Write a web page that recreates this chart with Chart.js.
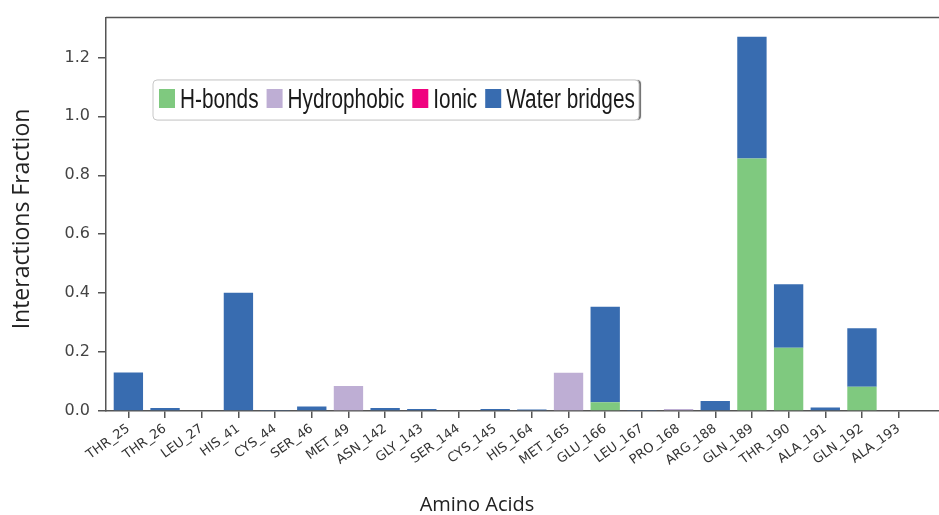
<!DOCTYPE html>
<html>
<head>
<meta charset="utf-8">
<script src="https://cdn.jsdelivr.net/npm/chart.js@4.4.1/dist/chart.umd.min.js"></script>
<style>
  html, body { margin: 0; padding: 0; background: #fff; }
  #wrap { width: 939px; height: 515px; }
</style>
</head>
<body>
<div id="wrap"><canvas id="myChart" width="939" height="515"></canvas></div>
<script>
// residues on the x axis
var aminoAcids = ["THR_25", "THR_26", "LEU_27", "HIS_41", "CYS_44", "SER_46", "MET_49",
  "ASN_142", "GLY_143", "SER_144", "CYS_145", "HIS_164", "MET_165", "GLU_166",
  "LEU_167", "PRO_168", "ARG_188", "GLN_189", "THR_190", "ALA_191", "GLN_192", "ALA_193"];

// interaction fractions
var hBonds      = [0, 0, 0, 0, 0, 0, 0, 0, 0, 0, 0, 0, 0, 0.03, 0, 0, 0, 0.857, 0.215, 0, 0.082, 0];
var hydrophobic = [0, 0, 0, 0, 0, 0, 0.085, 0, 0, 0, 0, 0, 0.13, 0, 0, 0.007, 0, 0, 0, 0, 0, 0];
var ionic       = [0, 0, 0, 0, 0, 0, 0, 0, 0, 0, 0, 0, 0, 0, 0, 0, 0, 0, 0, 0, 0, 0];
var waterBridges = [0.131, 0.01, 0, 0.401, 0.003, 0.015, 0, 0.01, 0.007, 0, 0.007, 0.005, 0,
  0.324, 0.002, 0, 0.034, 0.413, 0.215, 0.012, 0.199, 0];

var yTicks = [0, 0.2, 0.4, 0.6, 0.8, 1.0, 1.2];

var xTitle = "Amino Acids";
var yTitle = "Interactions Fraction";

function toPoints(arr) {
  return arr.map(function (v, i) { return { x: i, y: v }; });
}

var axisColor = "#555";
var textColor = "#333";

// top spine + axis titles (titles sit off-centre in the original)
var frameAndTitles = {
  id: "frameAndTitles",
  afterDraw: function (chart) {
    var ctx = chart.ctx, a = chart.chartArea;
    ctx.save();
    ctx.strokeStyle = axisColor;
    ctx.lineWidth = 1.5;
    ctx.beginPath();
    ctx.moveTo(a.left, a.top);
    ctx.lineTo(a.right, a.top);
    ctx.stroke();

    ctx.fillStyle = "#222";
    ctx.textAlign = "center";
    ctx.textBaseline = "middle";
    ctx.font = "20px 'Open Sans', sans-serif";
    ctx.fillText(xTitle, 477, 505);

    ctx.translate(22, 219);
    ctx.rotate(-Math.PI / 2);
    ctx.font = "23px 'Open Sans', sans-serif";
    ctx.fillText(yTitle, 0, 0);
    ctx.restore();
  }
};

// legend box sitting inside the plot
var boxLegend = {
  id: "boxLegend",
  afterDraw: function (chart) {
    var ctx = chart.ctx;
    var x0 = 153, y0 = 80, w = 486, h = 40;
    ctx.save();
    ctx.shadowColor = "rgba(0,0,0,0.6)";
    ctx.shadowOffsetX = 2;
    ctx.shadowOffsetY = 0;
    ctx.shadowBlur = 1;
    ctx.fillStyle = "#fff";
    ctx.beginPath();
    ctx.roundRect(x0, y0, w, h, 4);
    ctx.fill();
    ctx.shadowColor = "transparent";
    ctx.strokeStyle = "#c8c8c8";
    ctx.lineWidth = 1;
    ctx.stroke();

    var sx = 0.77;
    ctx.font = "27px 'Liberation Sans', Arial, sans-serif";
    ctx.textBaseline = "alphabetic";
    var x = x0 + 6;
    chart.data.datasets.forEach(function (ds) {
      ctx.fillStyle = ds.backgroundColor;
      ctx.fillRect(x, y0 + 9, 16, 19);
      x += 21;
      ctx.fillStyle = "#1a1a1a";
      ctx.save();
      ctx.translate(x, y0 + 28);
      ctx.scale(sx, 1);
      ctx.fillText(ds.label, 0, 0);
      ctx.restore();
      x += ctx.measureText(ds.label).width * sx + 8;
    });
    ctx.restore();
  }
};

var ctx = document.getElementById("myChart").getContext("2d");
var chart = new Chart(ctx, {
  type: "bar",
  data: {
    datasets: [
      { label: "H-bonds", backgroundColor: "#7fc97f", data: toPoints(hBonds) },
      { label: "Hydrophobic", backgroundColor: "#beaed4", data: toPoints(hydrophobic) },
      { label: "Ionic", backgroundColor: "#f0027f", data: toPoints(ionic) },
      { label: "Water bridges", backgroundColor: "#386cb0", data: toPoints(waterBridges) }
    ]
  },
  options: {
    responsive: false,
    animation: false,
    layout: { padding: { top: 15, right: 0, left: 0, bottom: 0 } },
    datasets: { bar: { barPercentage: 0.8, categoryPercentage: 1.0, borderWidth: 0 } },
    plugins: {
      legend: { display: false },
      tooltip: { enabled: false }
    },
    scales: {
      x: {
        type: "linear",
        stacked: true,
        offset: false,
        min: -0.61,
        max: 22.1,
        afterBuildTicks: function (scale) {
          scale.ticks = aminoAcids.map(function (_, i) { return { value: i }; });
        },
        afterFit: function (scale) { scale.height = 104; },
        ticks: {
          autoSkip: false,
          minRotation: 36,
          maxRotation: 36,
          padding: 3,
          color: textColor,
          font: { family: "DejaVu Sans", size: 13 },
          callback: function (v) { return aminoAcids[v]; }
        },
        grid: { display: true, drawOnChartArea: false, offset: false, tickLength: 7, color: axisColor, lineWidth: 1.5 },
        border: { display: true, color: axisColor, width: 1.5 }
      },
      y: {
        stacked: true,
        min: 0,
        max: 1.335,
        afterBuildTicks: function (scale) {
          scale.ticks = yTicks.map(function (v) { return { value: v }; });
        },
        afterFit: function (scale) { scale.width = 106; },
        ticks: {
          padding: 8,
          color: "#444",
          font: { family: "DejaVu Sans", size: 16 },
          callback: function (v) { return v.toFixed(1); }
        },
        grid: { display: true, drawOnChartArea: false, tickLength: 8, color: axisColor, lineWidth: 1.5 },
        border: { display: true, color: axisColor, width: 1.5 }
      }
    }
  },
  plugins: [frameAndTitles, boxLegend]
});
</script>
</body>
</html>
